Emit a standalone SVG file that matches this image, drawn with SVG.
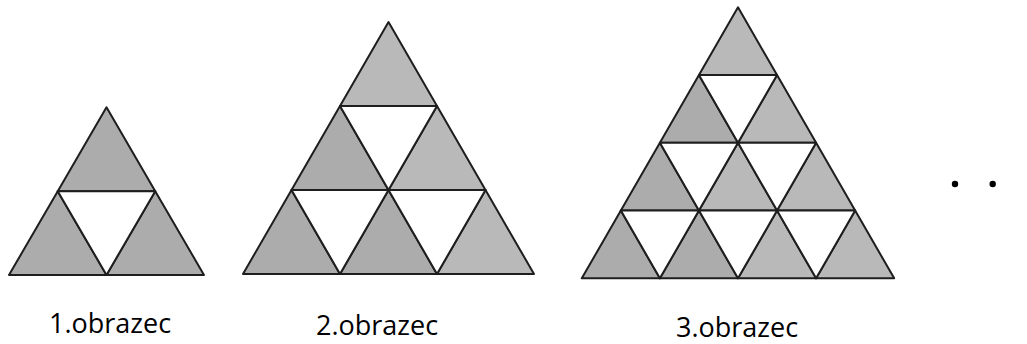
<svg xmlns="http://www.w3.org/2000/svg" width="1027" height="344" viewBox="0 0 1027 344">
  <style>
    .up { stroke: #1e1e1e; stroke-width: 2; stroke-linejoin: round; }
    .dk { fill: #acacac; }
    .lt { fill: #b9b9b9; }
    .down { fill: #ffffff; stroke: #1e1e1e; stroke-width: 2; stroke-linejoin: round; }
    .label { font-family: "Open Sans", "Liberation Sans", sans-serif; font-size: 27px; fill: #000; }
    .dot { fill: #000; }
  </style>
  <rect width="1027" height="344" fill="#ffffff"/>

  <!-- Figure 1: two rows -->
  <g id="figure1">
    <polygon class="up dk" points="106.5,107.3 57.75,191.15 155.25,191.15"/>
    <polygon class="up dk" points="57.75,191.15 9,275 106.5,275"/>
    <polygon class="up dk" points="155.25,191.15 106.5,275 204,275"/>
    <polygon class="down" points="57.75,191.15 155.25,191.15 106.5,275"/>
  </g>

  <!-- Figure 2: three rows -->
  <g id="figure2">
    <polygon class="up lt" points="388.5,22 340,106 437,106"/>
    <polygon class="up dk" points="340,106 291.5,190 388.5,190"/>
    <polygon class="up lt" points="437,106 388.5,190 485.5,190"/>
    <polygon class="down" points="340,106 437,106 388.5,190"/>
    <polygon class="up dk" points="291.5,190 243,274 340,274"/>
    <polygon class="up dk" points="388.5,190 340,274 437,274"/>
    <polygon class="up lt" points="485.5,190 437,274 534,274"/>
    <polygon class="down" points="291.5,190 388.5,190 340,274"/>
    <polygon class="down" points="388.5,190 485.5,190 437,274"/>
  </g>

  <!-- Figure 3: four rows -->
  <g id="figure3">
    <polygon class="up lt" points="738,7.3 698.95,75.05 777.05,75.05"/>
    <polygon class="up dk" points="698.95,75.05 659.9,142.8 738,142.8"/>
    <polygon class="up lt" points="777.05,75.05 738,142.8 816.1,142.8"/>
    <polygon class="down" points="698.95,75.05 777.05,75.05 738,142.8"/>
    <polygon class="up dk" points="659.9,142.8 620.85,210.55 698.95,210.55"/>
    <polygon class="up lt" points="738,142.8 698.95,210.55 777.05,210.55"/>
    <polygon class="up lt" points="816.1,142.8 777.05,210.55 855.15,210.55"/>
    <polygon class="down" points="659.9,142.8 738,142.8 698.95,210.55"/>
    <polygon class="down" points="738,142.8 816.1,142.8 777.05,210.55"/>
    <polygon class="up dk" points="620.85,210.55 581.8,278.3 659.9,278.3"/>
    <polygon class="up dk" points="698.95,210.55 659.9,278.3 738,278.3"/>
    <polygon class="up lt" points="777.05,210.55 738,278.3 816.1,278.3"/>
    <polygon class="up lt" points="855.15,210.55 816.1,278.3 894.2,278.3"/>
    <polygon class="down" points="620.85,210.55 698.95,210.55 659.9,278.3"/>
    <polygon class="down" points="698.95,210.55 777.05,210.55 738,278.3"/>
    <polygon class="down" points="777.05,210.55 855.15,210.55 816.1,278.3"/>
  </g>

  <!-- Continuation dots -->
  <g id="ellipsis">
    <circle class="dot" cx="955" cy="184" r="3.2"/>
    <circle class="dot" cx="992.7" cy="184" r="3.2"/>
  </g>

  <!-- Captions -->
  <g id="labels">
    <text class="label" x="49" y="333">1.obrazec</text>
    <text class="label" x="316" y="335">2.obrazec</text>
    <text class="label" x="676" y="337">3.obrazec</text>
  </g>
</svg>
